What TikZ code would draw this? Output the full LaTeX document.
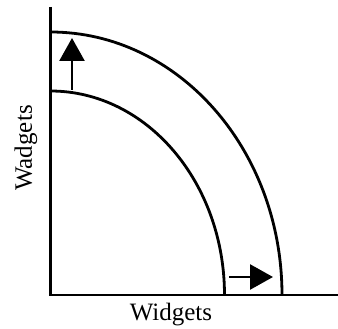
\documentclass[tikz,border=0pt]{standalone}
\usepackage{fontspec}
\setmainfont{Liberation Serif}
\usetikzlibrary{arrows.meta}
\begin{document}
\begin{tikzpicture}[x=1pt,y=-1pt,
  axis/.style={line width=2.6pt},
  curve/.style={line width=2.8pt},
  shiftarrow/.style={line width=2.6pt,-{Triangle[length=23pt,width=25pt]}},
  lbl/.style={font=\fontsize{25}{28}\selectfont, inner sep=0pt}]
\useasboundingbox (0,0) rectangle (338,329);
\coordinate (top) at (50.5,7);
\coordinate (origin) at (50.5,295);
\coordinate (right) at (338,295);
\draw[axis] (top) -- (origin) -- (right);
\coordinate (inA) at (50.5,91);
\coordinate (outA) at (50.5,32);
\draw[curve] (inA) arc[start angle=90,end angle=0,x radius=174,y radius=-204];
\draw[curve] (outA) arc[start angle=90,end angle=0,x radius=231.5,y radius=-263];
\coordinate (v1) at (72,90);
\coordinate (v2) at (72,38);
\draw[shiftarrow] (v1) -- (v2);
\coordinate (h1) at (229,277);
\coordinate (h2) at (273,277);
\draw[shiftarrow] (h1) -- (h2);
\node[lbl] (wid) at (171,315) {Widgets};
\node[lbl, rotate=90] (wad) at (26,148) {Wadgets};
\end{tikzpicture}
\end{document}
